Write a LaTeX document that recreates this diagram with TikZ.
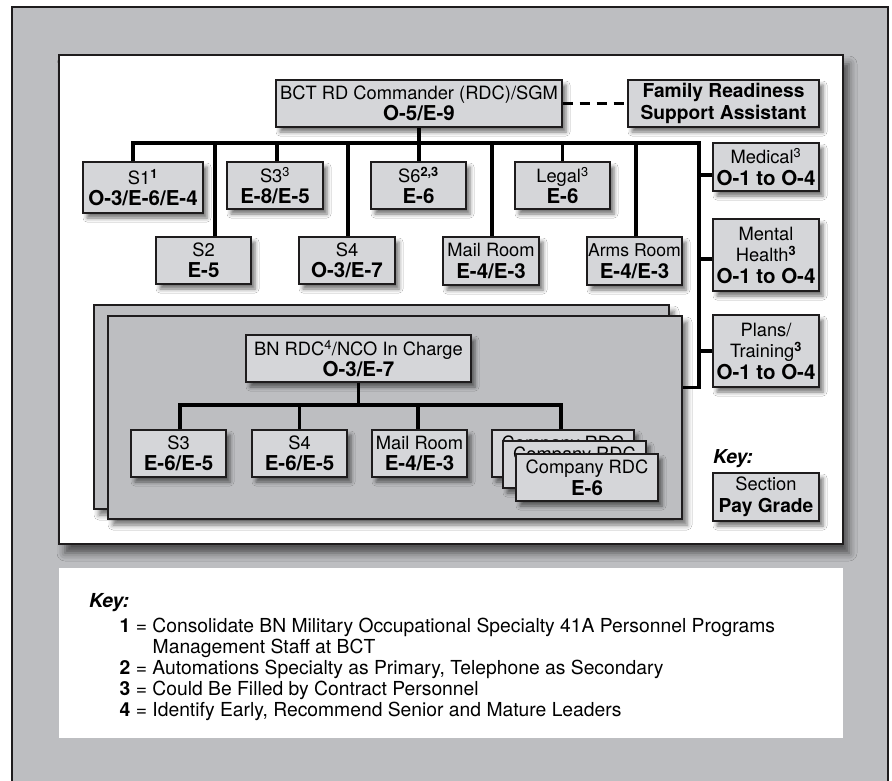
\documentclass[tikz,border=0pt]{standalone}
\usepackage{fontspec}
\setmainfont{TeX Gyre Heros}
\usetikzlibrary{shadows.blur}
\definecolor{bggray}{RGB}{189,190,193}
\definecolor{boxfill}{RGB}{213,214,217}
\definecolor{ink}{RGB}{30,28,29}
\newcommand\rgf{\fontsize{18.3}{21.5}\selectfont}
\newcommand\gr[1]{{\fontsize{20.5}{21.5}\selectfont\bfseries #1}}
\newcommand\bsup[1]{\textsuperscript{\bfseries #1}}
\begin{document}
\begin{tikzpicture}[x=1pt,y=-1pt,
  box/.style={draw=ink, line width=1.4pt, fill=boxfill, inner sep=0pt, align=center, font=\rgf,
     blur shadow={shadow xshift=4pt, shadow yshift=-5pt, shadow blur radius=4pt, shadow opacity=55}},
  panel/.style={draw=ink, line width=1.5pt, fill=bggray, inner sep=0pt,
     blur shadow={shadow xshift=5pt, shadow yshift=-6pt, shadow blur radius=5pt, shadow opacity=55}},
  conn/.style={draw=black, line width=3.2pt},
  legtxt/.style={anchor=base west, inner sep=0pt, font=\fontsize{19.3}{21}\selectfont},
  ]
\useasboundingbox (0,0) rectangle (892,780);
% background frame
\draw[ink, line width=1.2pt, fill=bggray] (12,7) rectangle (888,800);
\node[draw=ink, line width=1.5pt, fill=white, minimum width=784pt, minimum height=489pt, inner sep=0pt,
  blur shadow={shadow xshift=6pt, shadow yshift=-9pt, shadow blur radius=8pt, shadow opacity=60}] (main) at (451,299.5) {};
\node[fill=white, minimum width=784pt, minimum height=170pt, inner sep=0pt] (legend) at (451,653) {};
% battalion panels
\node[panel, minimum width=575pt, minimum height=204pt] (back) at (381.5,407) {};
\node[panel, minimum width=574pt, minimum height=203pt] (front) at (395,417.5) {};
% BCT level
\node[box, minimum width=286pt, minimum height=47pt] (cmd) at (419,103.5) {BCT RD Commander (RDC)/SGM\\\gr{O-5/E-9}};
\node[box, minimum width=191pt, minimum height=47pt, font=\fontsize{19.2}{21.5}\selectfont\bfseries] (frsa) at (723.5,103.5) {Family Readiness\\Support Assistant};
\node[box, minimum width=120pt, minimum height=51pt] (s1) at (143,187.5) {S1\bsup{1}\\\gr{O-3/E-6/E-4}};
\node[box, minimum width=96pt, minimum height=47pt] (s3) at (275,185.5) {S3\textsuperscript{3}\\\gr{E-8/E-5}};
\node[box, minimum width=95pt, minimum height=47pt] (s6) at (418.5,185.5) {S6\bsup{2,3}\\\gr{E-6}};
\node[box, minimum width=95pt, minimum height=47pt] (legal) at (562.5,185.5) {Legal\textsuperscript{3}\\\gr{E-6}};
\node[box, minimum width=95pt, minimum height=47pt] (s2) at (203.5,260.5) {S2\\\gr{E-5}};
\node[box, minimum width=96pt, minimum height=47pt] (s4) at (347,260.5) {S4\\\gr{O-3/E-7}};
\node[box, minimum width=96pt, minimum height=48pt] (mail) at (491,261) {Mail Room\\\gr{E-4/E-3}};
\node[box, minimum width=95pt, minimum height=48pt] (arms) at (634.5,261) {{\fontsize{17.6}{21.5}\selectfont Arms Room}\\\gr{E-4/E-3}};
\node[box, minimum width=106pt, minimum height=48pt] (medical) at (766,167) {Medical\textsuperscript{3}\\\gr{O-1 to O-4}};
\node[box, minimum width=106pt, minimum height=72pt] (mental) at (766,255) {Mental\\Health\bsup{3}\\\gr{O-1 to O-4}};
\node[box, minimum width=106pt, minimum height=72pt] (plans) at (766,351) {Plans/\\Training\bsup{3}\\\gr{O-1 to O-4}};
% key (small)
\node[anchor=base west, inner sep=0pt, font=\fontsize{19.2}{21}\selectfont\bfseries\itshape] (keylbl) at (713,463) {Key:};
\node[box, minimum width=106pt, minimum height=48pt] (keybox) at (766,497) {Section\\{\fontsize{19.2}{21.5}\selectfont\bfseries Pay Grade}};
% battalion level
\node[box, minimum width=225pt, minimum height=47pt] (bn) at (358.5,358.5) {BN RDC\textsuperscript{4}/NCO In Charge\\\gr{O-3/E-7}};
\node[box, minimum width=95pt, minimum height=47pt] (bs3) at (178.5,453.5) {S3\\\gr{E-6/E-5}};
\node[box, minimum width=95pt, minimum height=47pt] (bs4) at (299.5,453.5) {S4\\\gr{E-6/E-5}};
\node[box, minimum width=95pt, minimum height=47pt] (bmail) at (419.5,453.5) {Mail Room\\\gr{E-4/E-3}};
\node[box, minimum width=142pt, minimum height=47pt] (c1) at (563,453.5) {Company RDC\\\phantom{\gr{E-6}}};
\node[box, minimum width=143pt, minimum height=47pt] (c2) at (574.5,464.5) {Company RDC\\\phantom{\gr{E-6}}};
\node[box, minimum width=142pt, minimum height=47pt] (c3) at (587,477.5) {Company RDC\\\gr{E-6}};
% connectors BCT
\coordinate (bR) at (699,143);
\draw[conn] ([xshift=-10pt]s1.north) |- (bR) |- (front.east |- plans.south);
\draw[conn] (cmd.south) -- (cmd.south |- s6.north);
\draw[conn] ([xshift=11.5pt]s2.north) -- ([xshift=11.5pt]s2.north |- bR);
\draw[conn] ([xshift=2pt]s3.north) -- ([xshift=2pt]s3.north |- bR);
\draw[conn] ([xshift=1pt]s4.north) -- ([xshift=1pt]s4.north |- bR);
\draw[conn] ([xshift=1pt]mail.north) -- ([xshift=1pt]mail.north |- bR);
\draw[conn] (legal.north) -- (legal.north |- bR);
\draw[conn] ([xshift=1.5pt]arms.north) -- ([xshift=1.5pt]arms.north |- bR);
\coordinate (medc) at ([yshift=-8pt]medical.west);
\coordinate (mentc) at ([yshift=-4pt]mental.west);
\draw[conn] (medc) -- (medc -| bR);
\draw[conn] (mentc) -- (mentc -| bR);
\draw[conn] (plans.west) -- (plans.west -| bR);
\draw[conn, dash pattern=on 10pt off 7pt] (cmd.east) -- (frsa.west);
% connectors BN
\coordinate (bb) at (358,405);
\draw[conn] ([xshift=1.5pt]bs3.north) |- ([xshift=-2pt]c1.north |- bb) -- ([xshift=-2pt]c1.north);
\draw[conn] (bn.south) -- (bn.south |- bb);
\draw[conn] (bs4.north) -- (bs4.north |- bb);
\draw[conn] ([xshift=-1.5pt]bmail.north) -- ([xshift=-1.5pt]bmail.north |- bb);
% legend text
\node[legtxt, font=\fontsize{19.3}{21}\selectfont\bfseries\itshape] (lkey) at (89,607) {Key:};
\node[legtxt] (l1) at (119.5,632) {\textbf{1} = Consolidate BN Military Occupational Specialty 41A Personnel Programs};
\node[legtxt] (l1b) at (152.5,653) {Management Staff at BCT};
\node[legtxt] (l2) at (119.5,674) {\textbf{2} = Automations Specialty as Primary, Telephone as Secondary};
\node[legtxt] (l3) at (119.5,695) {\textbf{3} = Could Be Filled by Contract Personnel};
\node[legtxt] (l4) at (119.5,716) {\textbf{4} = Identify Early, Recommend Senior and Mature Leaders};
\end{tikzpicture}
\end{document}
